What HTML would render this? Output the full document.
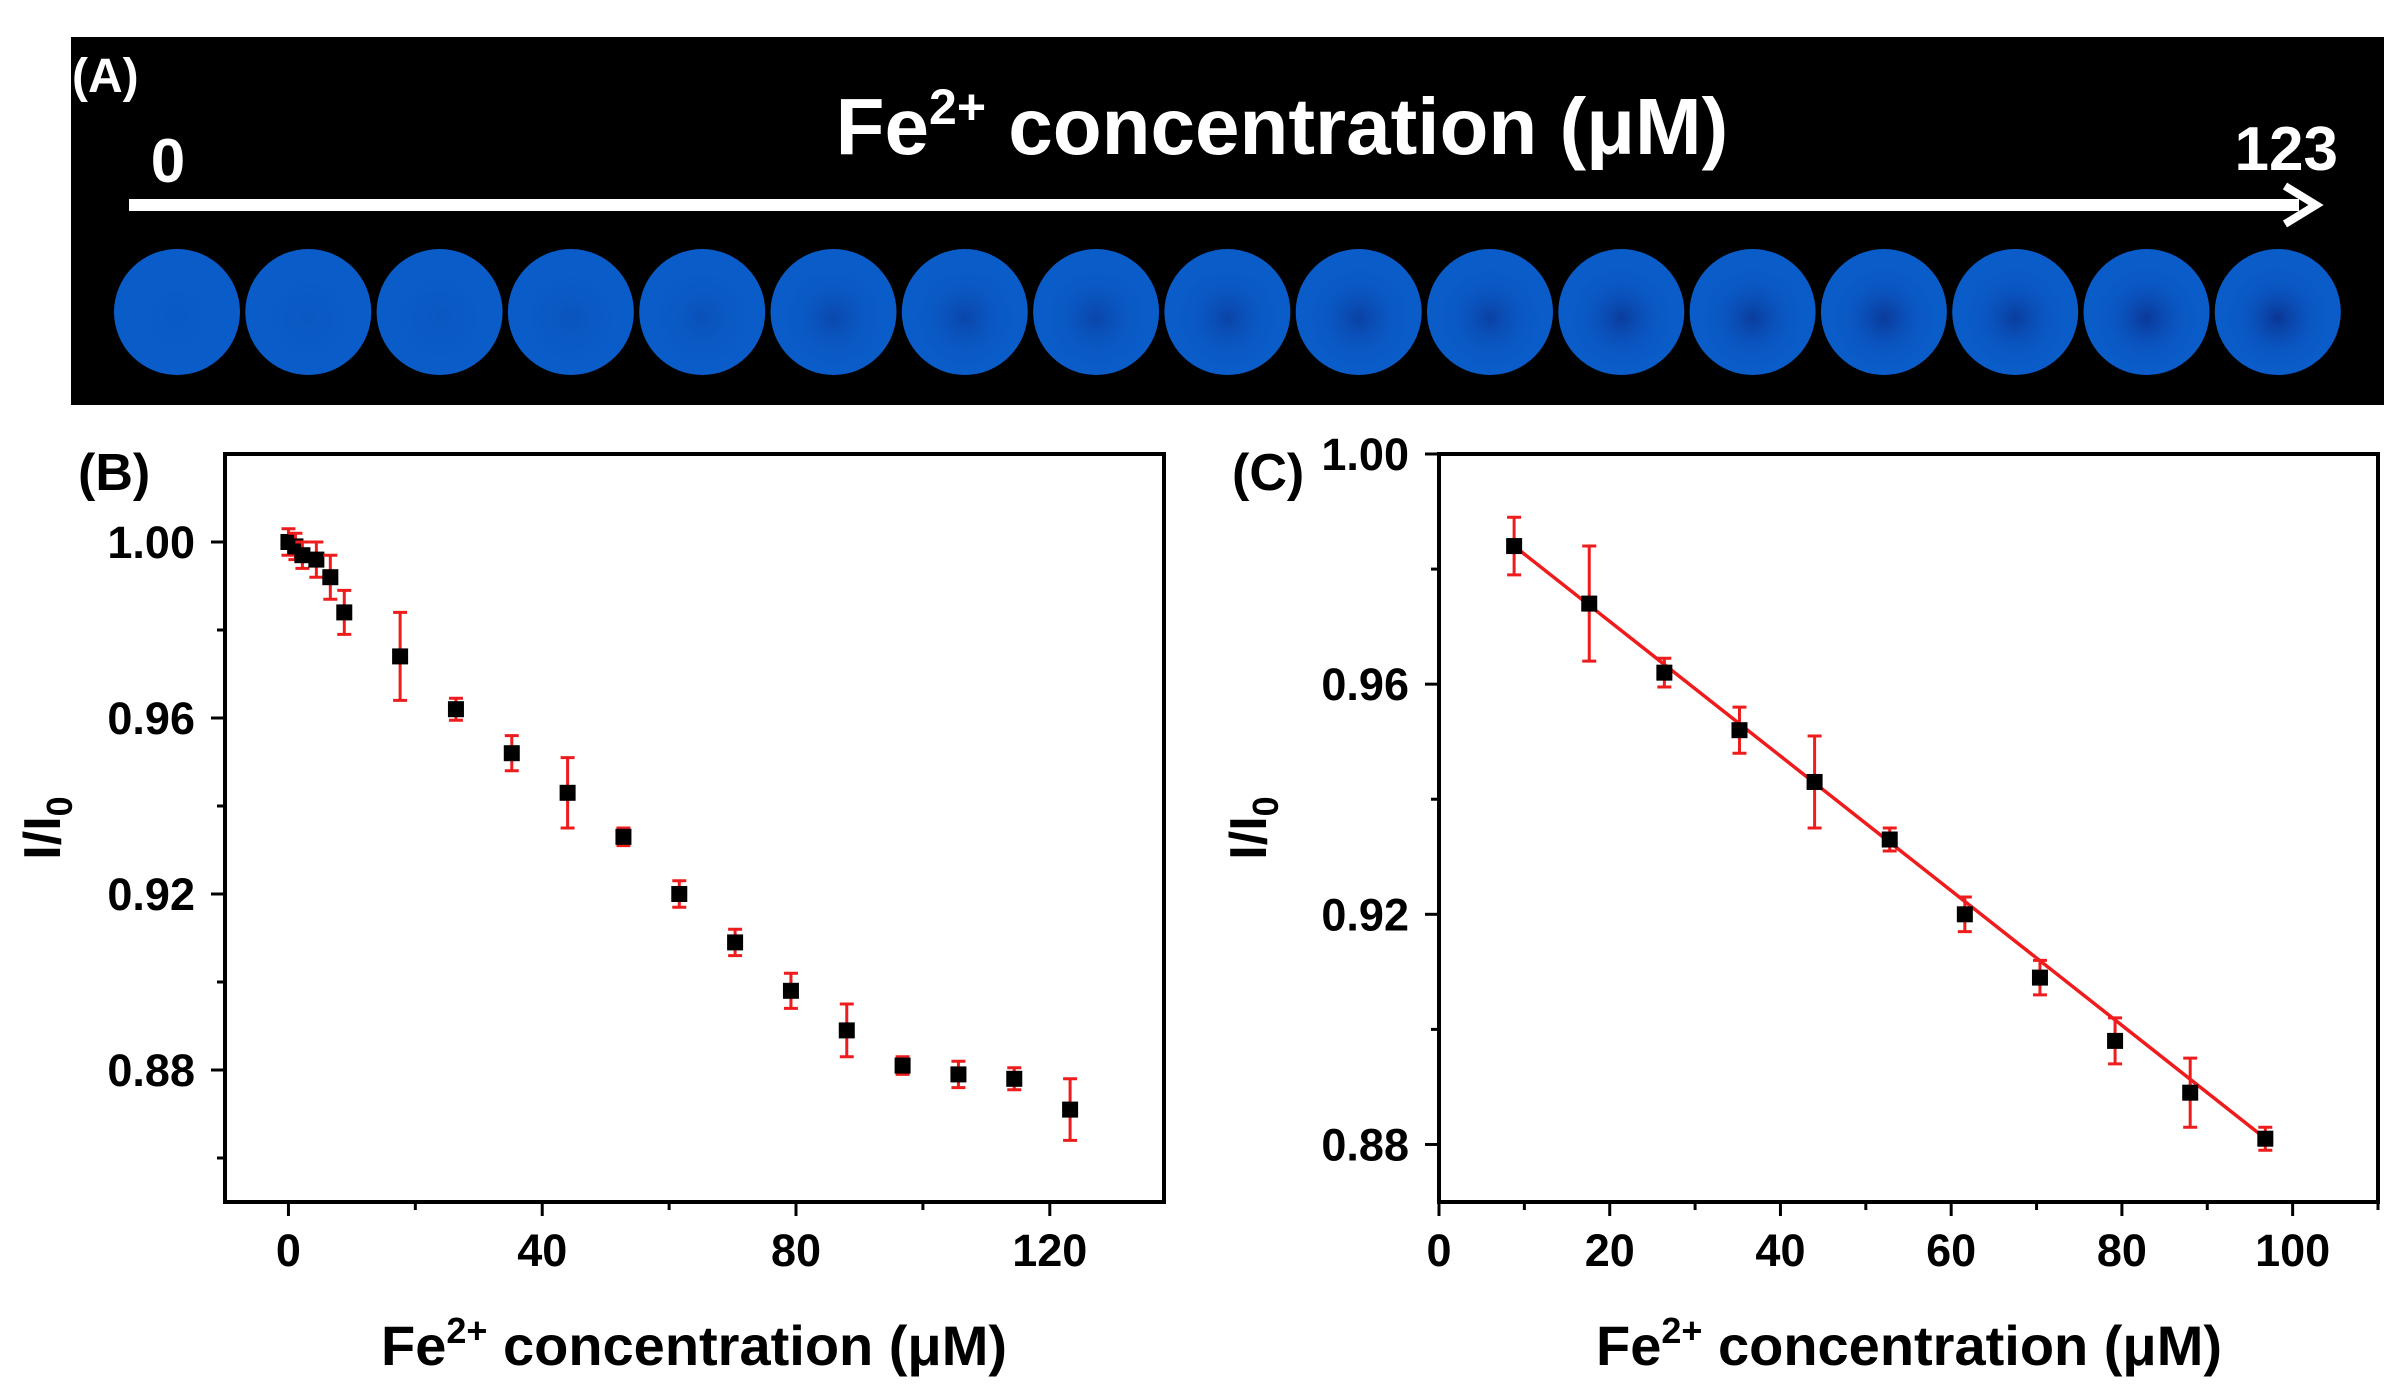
<!DOCTYPE html>
<html><head><meta charset="utf-8"><style>
html,body{margin:0;padding:0;background:#fff;}
svg{display:block;font-family:"Liberation Sans",sans-serif;font-weight:bold;}
</style></head><body>
<svg id="fig" width="2408" height="1400" viewBox="0 0 2408 1400">
<defs>
<radialGradient id="spot" cx="0.5" cy="0.5" r="0.5">
<stop offset="0" stop-color="#0a2f8a" stop-opacity="1"/>
<stop offset="0.55" stop-color="#0a4cb8" stop-opacity="0.5"/>
<stop offset="1" stop-color="#0a5cc8" stop-opacity="0"/>
</radialGradient>
</defs>
<g>
<rect x="71" y="37" width="2313" height="368" fill="#000"/>
<text x="72" y="92" fill="#fff" font-size="48">(A)</text>
<text x="1282" y="154" fill="#fff" font-size="80" text-anchor="middle">Fe<tspan dy="-30" font-size="50">2+</tspan><tspan dy="30"> concentration (μM)</tspan></text>
<text x="168" y="182" fill="#fff" font-size="62" text-anchor="middle">0</text>
<text x="2338" y="170" fill="#fff" font-size="62" text-anchor="end">123</text>
<rect x="129" y="199" width="2170" height="12" fill="#fff"/>
<polyline points="2285,186 2316,205 2285,224" fill="none" stroke="#fff" stroke-width="8"/>
<g id="wells"></g>
</g>
<g id="plotB"></g>
<g id="plotC"></g>
</svg>
<script>
const wellIntensity = [0.05,0.1,0.12,0.18,0.25,0.45,0.5,0.5,0.55,0.6,0.6,0.7,0.7,0.75,0.7,0.8,0.85];
const bX = [0,1.1,2.2,4.4,6.6,8.8,17.6,26.4,35.2,44,52.8,61.6,70.4,79.2,88,96.8,105.6,114.4,123.2];
const bY = [1.000,0.999,0.997,0.996,0.992,0.984,0.974,0.962,0.952,0.943,0.933,0.920,0.909,0.898,0.889,0.881,0.879,0.878,0.871];
const bErr = [0.003,0.003,0.003,0.004,0.005,0.005,0.010,0.0025,0.004,0.008,0.002,0.003,0.003,0.004,0.006,0.002,0.003,0.0025,0.007];
const cX = [8.8,17.6,26.4,35.2,44,52.8,61.6,70.4,79.2,88,96.8];
const cY = [0.984,0.974,0.962,0.952,0.943,0.933,0.920,0.909,0.898,0.889,0.881];
const cErr = [0.005,0.010,0.0025,0.004,0.008,0.002,0.003,0.003,0.004,0.006,0.002];
const fitSlope = -0.001170;
const fitIntercept = 0.9943;
const bXTicks = [0,40,80,120];
const bYTicks = [0.88,0.92,0.96,1.00];
const cXTicks = [0,20,40,60,80,100];
const cYTicks = [0.88,0.92,0.96,1.00];

const NS = "http://www.w3.org/2000/svg";
function mk(parent, tag, attrs, text){
  const e = document.createElementNS(NS, tag);
  for (const k in attrs) e.setAttribute(k, attrs[k]);
  if (text !== undefined) e.textContent = text;
  parent.appendChild(e);
  return e;
}
const wells = document.getElementById('wells');
wellIntensity.forEach((v,i)=>{
  const cx = 177 + i*131.3;
  const c = mk(wells,'circle',{cx:cx,cy:312,r:63,fill:'#0a5cc8'});
  
  
  const s = mk(wells,'circle',{cx:cx,cy:318,r:58,fill:'url(#spot)','fill-opacity':v});
  
  
});

function plot(g, cfg){
  const {L,R,T,B,x0,x1,y0,y1} = cfg;
  const sx = v => L + (v - x0)/(x1 - x0)*(R - L);
  const sy = v => B - (v - y0)/(y1 - y0)*(B - T);
  const f = mk(g,'rect',{x:L,y:T,width:R-L,height:B-T,fill:'none',stroke:'#000','stroke-width':4});
  
  
  cfg.xMinor.forEach(v=>{ const t=mk(g,'line',{x1:sx(v),x2:sx(v),y1:B,y2:B+8,stroke:'#000','stroke-width':3});
      });
  cfg.yMinor.forEach(v=>{ const t=mk(g,'line',{x1:L-8,x2:L,y1:sy(v),y2:sy(v),stroke:'#000','stroke-width':3});
      });
  cfg.xTicks.forEach(v=>{
    const t=mk(g,'line',{x1:sx(v),x2:sx(v),y1:B,y2:B+14,stroke:'#000','stroke-width':3});
     
    const l=mk(g,'text',{x:sx(v),y:B+64,'font-size':45,'text-anchor':'middle'},String(v));
     
  });
  cfg.yTicks.forEach(v=>{
    const t=mk(g,'line',{x1:L-14,x2:L,y1:sy(v),y2:sy(v),stroke:'#000','stroke-width':3});
     
    const l=mk(g,'text',{x:L-30,y:sy(v)+16,'font-size':45,'text-anchor':'end'},v.toFixed(2));
     
  });
  if (cfg.fit){
    const ln=mk(g,'line',{x1:sx(cfg.fit[0]),y1:sy(fitIntercept+fitSlope*cfg.fit[0]),x2:sx(cfg.fit[1]),y2:sy(fitIntercept+fitSlope*cfg.fit[1]),stroke:'#ee1c1c','stroke-width':3.5});
     
  }
  cfg.xs.forEach((xv,i)=>{
    const X=sx(xv), Y=sy(cfg.ys[i]), e=cfg.err[i];
    const eg=mk(g,'path',{d:`M${X},${sy(cfg.ys[i]+e)}V${sy(cfg.ys[i]-e)}M${X-7},${sy(cfg.ys[i]+e)}H${X+7}M${X-7},${sy(cfg.ys[i]-e)}H${X+7}`,stroke:'#ee1c1c','stroke-width':3,fill:'none'});
     
    const p=mk(g,'rect',{x:X-8,y:Y-8,width:16,height:16,fill:'#000'});
     
  });
  const pl=mk(g,'text',{x:cfg.labelX,y:490,'font-size':52},cfg.label);
   
  const xt=mk(g,'text',{x:cfg.titleX,y:1365,'font-size':56,'text-anchor':'middle'});
   
  mk(xt,'tspan',{},'Fe');
  mk(xt,'tspan',{dy:-22,'font-size':36},'2+');
  mk(xt,'tspan',{dy:22},' concentration (μM)');
  const yt=mk(g,'text',{x:0,y:0,'font-size':52,'text-anchor':'middle',transform:`translate(${cfg.yTitleX},${(T+B)/2}) rotate(-90)`});
   
  mk(yt,'tspan',{},'I/I');
  mk(yt,'tspan',{dy:12,'font-size':36},'0');
}
plot(document.getElementById('plotB'),{L:225,R:1164,T:454,B:1202,x0:-10,x1:138,y0:0.85,y1:1.02,
  xTicks:bXTicks,yTicks:bYTicks,xMinor:[20,60,100],yMinor:[0.86,0.90,0.94,0.98],
  xs:bX,ys:bY,err:bErr,label:'(B)',labelX:78,yTitleX:60,titleX:694});
plot(document.getElementById('plotC'),{L:1439,R:2378,T:454,B:1202,x0:0,x1:110,y0:0.87,y1:1.00,
  xTicks:cXTicks,yTicks:cYTicks,xMinor:[10,30,50,70,90,110],yMinor:[0.90,0.94,0.98],
  xs:cX,ys:cY,err:cErr,label:'(C)',labelX:1232,yTitleX:1266,titleX:1909,fit:[8.8,96.8]});
</script>
</body></html>
